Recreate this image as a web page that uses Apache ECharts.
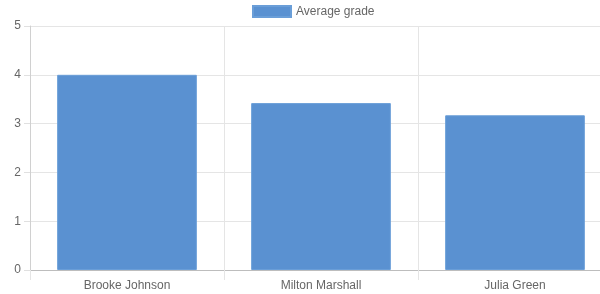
<!DOCTYPE html>
<html>
<head>
<meta charset="utf-8">
<script src="https://cdn.jsdelivr.net/npm/echarts@6/dist/echarts.min.js"></script>
<style>
  html, body { margin: 0; padding: 0; background: #fff; overflow: hidden; }
  #main { width: 612px; height: 294px; }
</style>
</head>
<body>
<div id="main"></div>
<script>
var names = ['Brooke Johnson', 'Milton Marshall', 'Julia Green'];
var grades = [4.0, 3.42, 3.17];
var yTicks = { min: 0, max: 5, interval: 1 };

var chart = echarts.init(document.getElementById('main'));
chart.setOption({
  animation: false,
  textStyle: { fontFamily: 'Liberation Sans, Arial, sans-serif' },
  legend: {
    top: 0,
    left: 247,
    padding: 5,
    icon: 'rect',
    itemWidth: 38,
    itemHeight: 11,
    itemGap: 10,
    textStyle: { color: '#666', fontSize: 12 },
    data: ['Average grade']
  },
  grid: { left: 30, right: 0, top: 26, bottom: 24 },
  xAxis: {
    type: 'category',
    data: names,
    boundaryGap: true,
    axisLine: { lineStyle: { color: '#bdbdbd' } },
    axisTick: { show: true, length: 10, interval: 0, lineStyle: { color: '#e5e5e5' } },
    splitLine: { show: true, interval: 0, lineStyle: { color: '#e5e5e5' } },
    axisLabel: { color: '#666', fontSize: 12, margin: 10, interval: 0 }
  },
  yAxis: {
    type: 'value',
    min: yTicks.min,
    max: yTicks.max,
    interval: yTicks.interval,
    axisLine: { show: true, lineStyle: { color: '#d0d0d0' } },
    axisTick: { show: true, length: 6, lineStyle: { color: '#e0e0e0' } },
    splitLine: { lineStyle: { color: '#e5e5e5' } },
    axisLabel: { color: '#666', fontSize: 12, margin: 9 }
  },
  series: [{
    name: 'Average grade',
    type: 'bar',
    data: grades,
    barCategoryGap: '28%',
    itemStyle: { color: '#5a91d1', borderColor: '#6a9ed8', borderWidth: 1 }
  }]
});
</script>
</body>
</html>
